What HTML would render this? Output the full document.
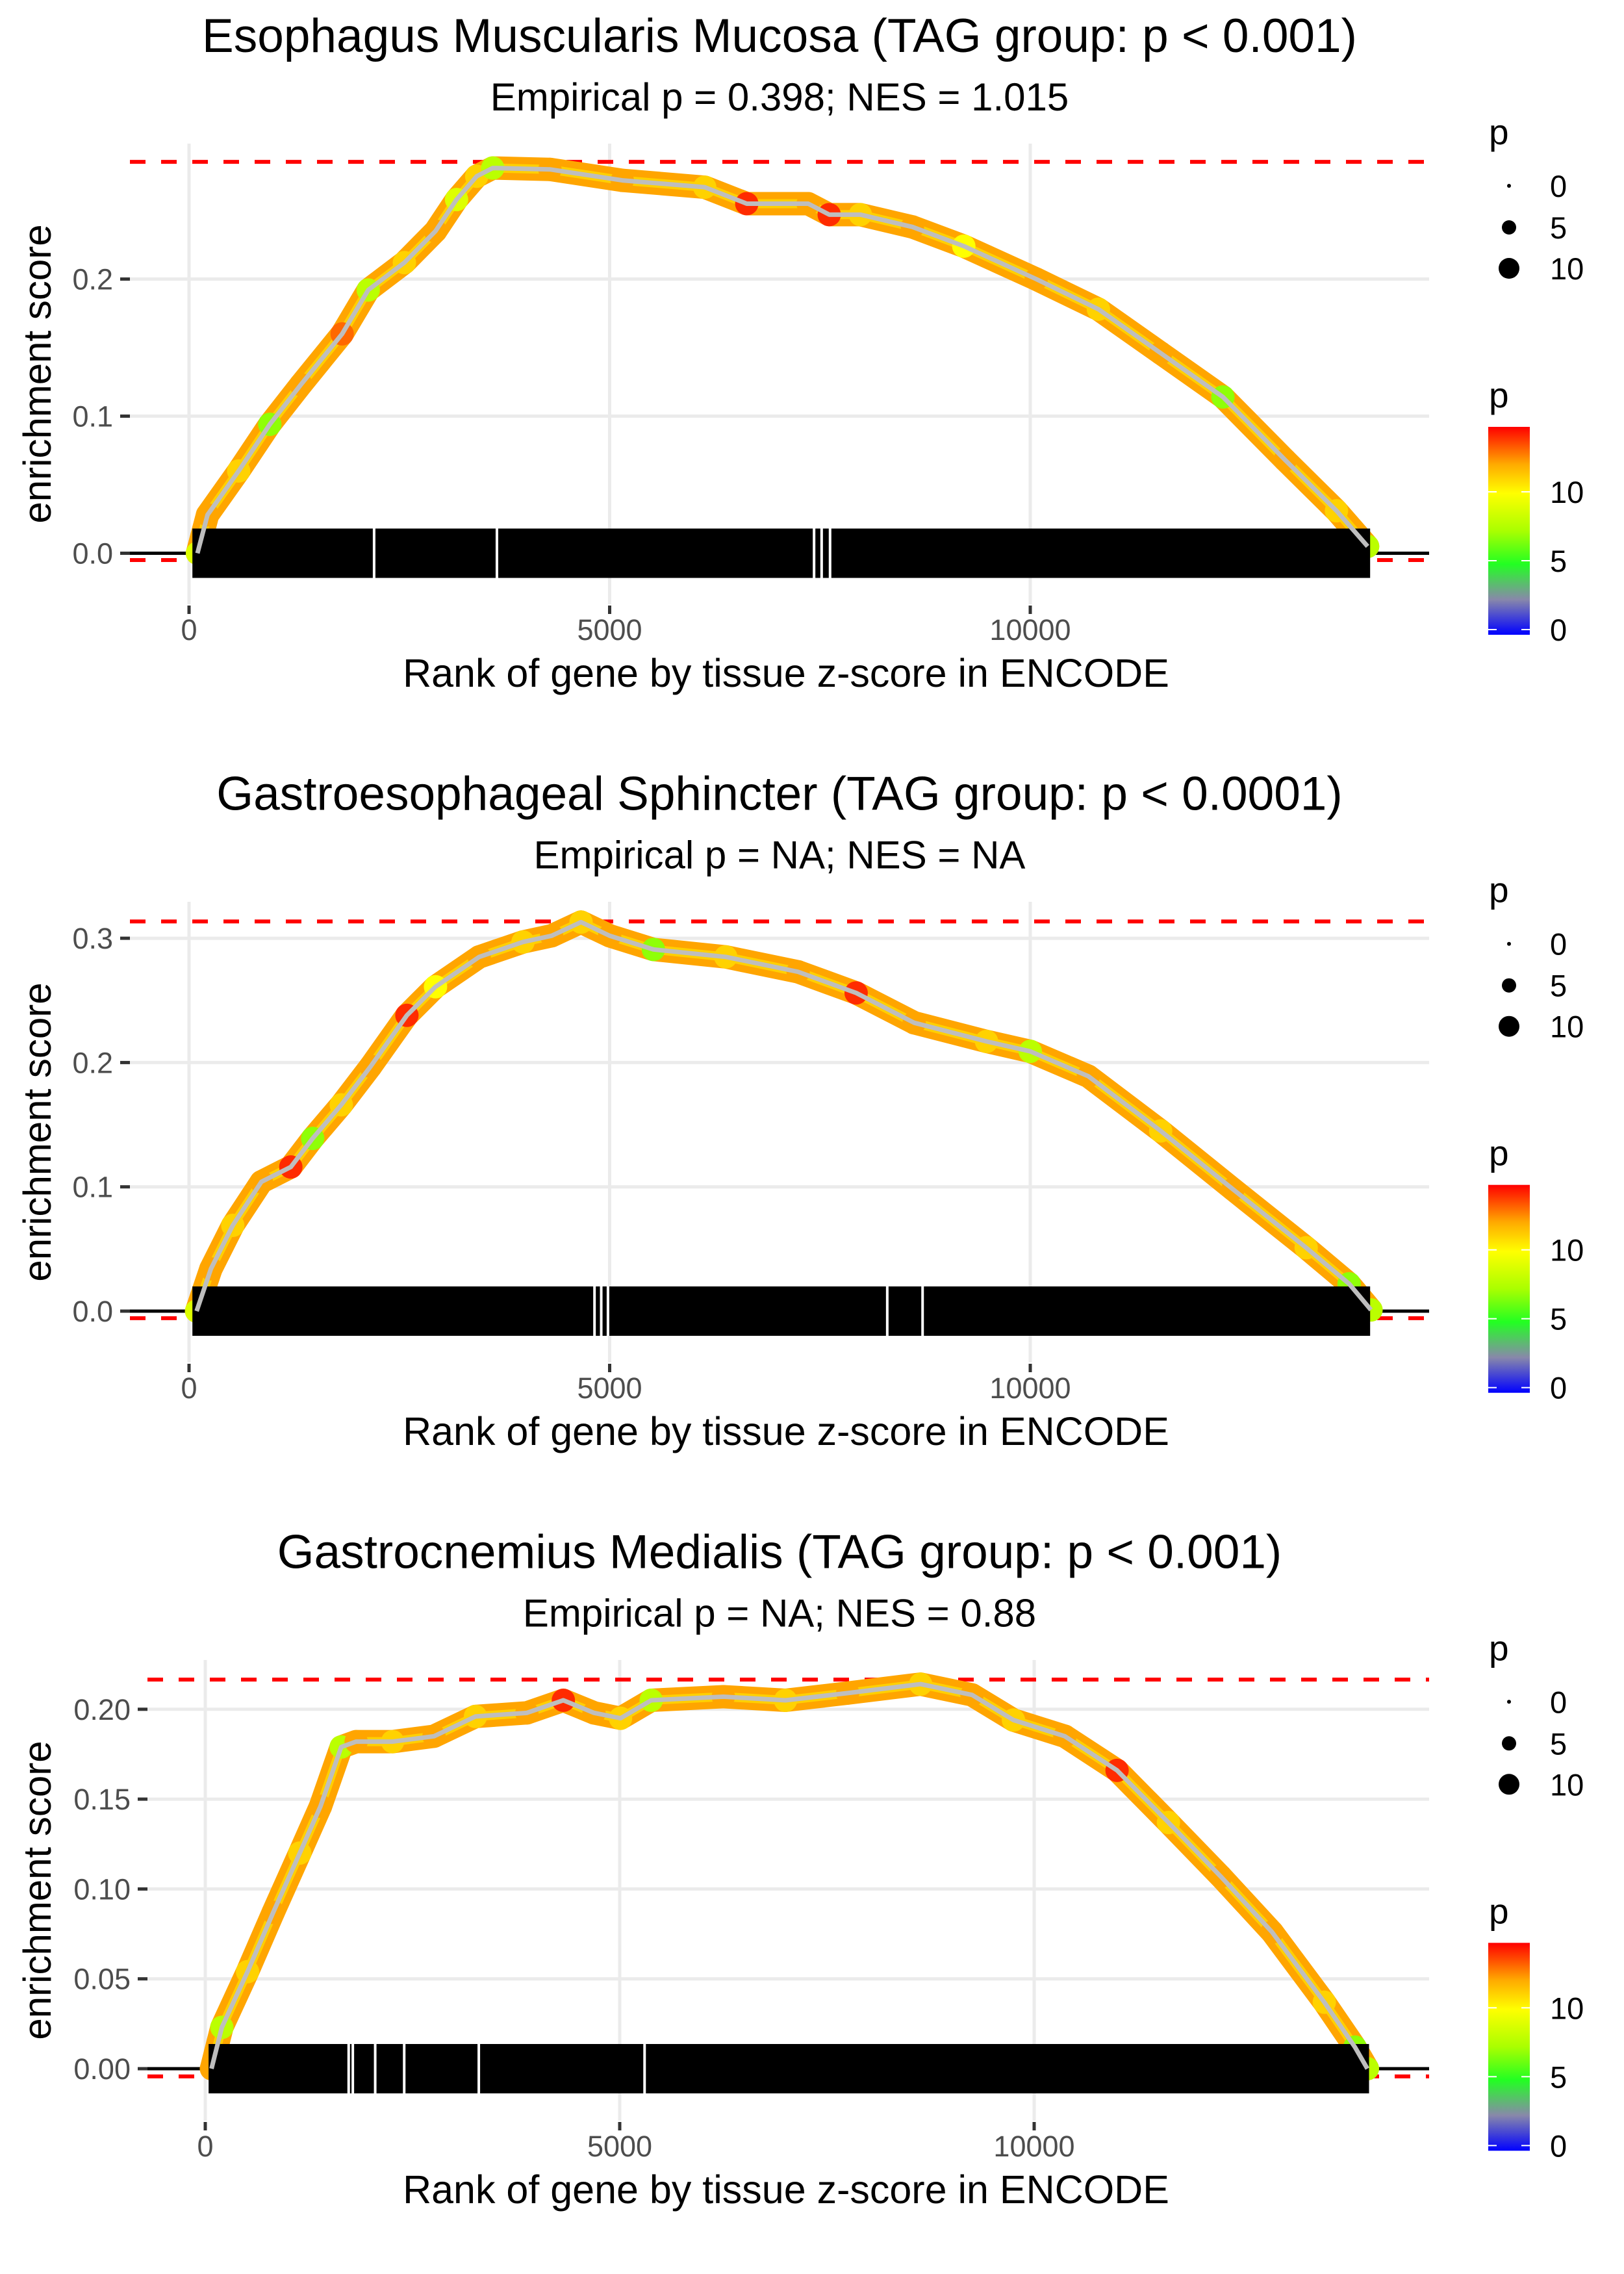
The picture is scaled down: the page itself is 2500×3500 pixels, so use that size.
<!DOCTYPE html>
<html><head><meta charset="utf-8"><style>
html,body{margin:0;padding:0;background:#fff;}
svg{display:block;font-family:"Liberation Sans",sans-serif;}
</style></head><body>
<svg id="chart" xmlns="http://www.w3.org/2000/svg" width="2500" height="3500" viewBox="0 0 2500 3500">
<defs>
<linearGradient id="pgrad" x1="0" y1="1" x2="0" y2="0">
<stop offset="0" stop-color="#0000ff"/>
<stop offset="0.17" stop-color="#8888aa"/>
<stop offset="0.34" stop-color="#22ff22"/>
<stop offset="0.5" stop-color="#aaff00"/>
<stop offset="0.68" stop-color="#ffff00"/>
<stop offset="0.82" stop-color="#ffaa00"/>
<stop offset="1" stop-color="#ff0000"/>
</linearGradient>
</defs>
</svg>
<script>
// ---- Data ----
const p1Titles = ["Esophagus Muscularis Mucosa (TAG group: p < 0.001)", "Empirical p = 0.398; NES = 1.015"];
const p2Titles = ["Gastroesophageal Sphincter (TAG group: p < 0.0001)", "Empirical p = NA; NES = NA"];
const p3Titles = ["Gastrocnemius Medialis (TAG group: p < 0.001)", "Empirical p = NA; NES = 0.88"];

const p1Rank = [100,220,590,960,1330,1820,2130,2560,2930,3180,3420,3610,4290,5150,6130,6630,7360,7610,7980,8600,9210,10070,10810,11550,12290,13030,13640,14010];
const p1ES = [0.0,0.028,0.06,0.094,0.123,0.16,0.192,0.212,0.235,0.258,0.275,0.281,0.28,0.272,0.267,0.255,0.255,0.247,0.247,0.238,0.224,0.2,0.178,0.146,0.114,0.068,0.031,0.005];
const p1P = [9,12,11,7,12,13,8,11,12,9,11,8,12,12,11,14,12,14,11,12,10,12,11,12,7,12,11,8];

const p2Rank = [90,260,520,860,1210,1470,1810,2160,2590,2930,3450,3970,4310,4660,5000,5520,6380,7240,7930,8620,9480,10000,10690,11550,12410,13280,13790,14050];
const p2ES = [0.0,0.034,0.069,0.104,0.116,0.139,0.166,0.197,0.238,0.261,0.285,0.297,0.302,0.313,0.302,0.291,0.285,0.273,0.256,0.232,0.217,0.209,0.189,0.145,0.098,0.051,0.022,0.001];
const p2P = [9,12,11,12,14,7,11,12,14,10,12,11,12,11,12,7,11,12,14,12,11,8,12,11,12,11,7,8];

const p3Rank = [75,200,510,820,1140,1390,1640,1820,2260,2760,3260,3880,4320,4690,5010,5380,6250,7000,7750,8630,9250,9750,10370,11000,11620,12250,12870,13500,13870,14020];
const p3ES = [0.0,0.023,0.054,0.087,0.12,0.146,0.179,0.182,0.182,0.185,0.196,0.198,0.205,0.198,0.195,0.205,0.207,0.205,0.209,0.214,0.208,0.194,0.185,0.166,0.137,0.107,0.076,0.037,0.012,0.0];
const p3P = [12,8,11,12,11,12,8,12,11,12,11,12,14,12,11,8,12,11,12,11,12,11,12,14,11,12,12,11,7,8];

const p1RugRange = [40,14040];
const p2RugRange = [40,14040];
const p3RugRange = [40,14040];
const p1RugGaps = [2200,3660,7430,7520,7620];
const p2RugGaps = [4820,4900,4980,8300,8720];
const p3RugGaps = [1730,1780,2050,2400,3300,5300];

const p1YTicks = [0,0.1,0.2];
const p1YLabels = ["0.0","0.1","0.2"];
const p2YTicks = [0,0.1,0.2,0.3];
const p2YLabels = ["0.0","0.1","0.2","0.3"];
const p3YTicks = [0,0.05,0.1,0.15,0.2];
const p3YLabels = ["0.00","0.05","0.10","0.15","0.20"];
const xTicks = [0,5000,10000];
const xLabels = ["0","5000","10000"];
const p1Thresh = [0.2855,-0.005];
const p2Thresh = [0.3135,-0.0057];
const p3Thresh = [0.2165,-0.0043];
const sizeLegendVals = [0,5,10];
const colorLegendVals = [0,5,10];

// ---- Drawing ----
const NS = "http://www.w3.org/2000/svg";
const svg = document.getElementById("chart");
function mk(tag, attrs, parent){
  const e = document.createElementNS(NS, tag);
  for (const k in attrs) e.setAttribute(k, attrs[k]);
  (parent||svg).appendChild(e);
  return e;
}
function pColor(p){
  const stops=[[0,[0,0,255]],[2.5,[136,136,170]],[5,[34,255,34]],[7.5,[170,255,0]],[10,[255,255,0]],[12,[255,165,0]],[14.7,[255,0,0]]];
  for(let i=1;i<stops.length;i++){
    if(p<=stops[i][0]){
      const a=stops[i-1],b=stops[i],t=(p-a[0])/(b[0]-a[0]);
      const c=a[1].map((v,j)=>Math.round(v+(b[1][j]-v)*t));
      return `rgb(${c[0]},${c[1]},${c[2]})`;
    }
  }
  return "rgb(255,0,0)";
}

function drawPanel(cfg){
  const g = mk("g",{});
  
  
  const X = r => cfg.x0 + r*cfg.xPer;
  const Y = v => cfg.y0 - v*cfg.yPer;
  const t = mk("text",{x:1200,y:cfg.off+80,"text-anchor":"middle","font-size":73,fill:"#000"},g);
  t.textContent = cfg.titles[0];
  
  
  const st = mk("text",{x:1200,y:cfg.off+170,"text-anchor":"middle","font-size":60,fill:"#000"},g);
  st.textContent = cfg.titles[1];
  
  
  cfg.yTicks.forEach((v,i)=>{
    const gl = mk("line",{x1:cfg.left,x2:2200,y1:Y(v),y2:Y(v),stroke:"#ebebeb","stroke-width":5},g);
    
    
    const tk = mk("line",{x1:cfg.left-15,x2:cfg.left,y1:Y(v),y2:Y(v),stroke:"#333","stroke-width":5},g);
    
    
    const tl = mk("text",{x:cfg.left-26,y:Y(v)+16,"text-anchor":"end","font-size":45,fill:"#4d4d4d"},g);
    tl.textContent = cfg.yLabels[i];
    
    
  });
  xTicks.forEach((v,i)=>{
    const gl = mk("line",{x1:X(v),x2:X(v),y1:cfg.top,y2:cfg.bottom,stroke:"#ebebeb","stroke-width":5},g);
    
    
    const tk = mk("line",{x1:X(v),x2:X(v),y1:cfg.bottom+2,y2:cfg.bottom+15,stroke:"#333","stroke-width":5},g);
    
    
    const tl = mk("text",{x:X(v),y:cfg.bottom+55,"text-anchor":"middle","font-size":45,fill:"#4d4d4d"},g);
    tl.textContent = xLabels[i];
    
    
  });
  const xt = mk("text",{x:1210,y:cfg.bottom+127,"text-anchor":"middle","font-size":61,fill:"#000"},g);
  xt.textContent = "Rank of gene by tissue z-score in ENCODE";
  
  
  const yc = (cfg.top+cfg.bottom)/2;
  const yt = mk("text",{x:0,y:0,"text-anchor":"middle","font-size":60,fill:"#000",transform:`translate(78,${yc}) rotate(-90)`},g);
  yt.textContent = "enrichment score";
  
  
  cfg.thresh.forEach(v=>{
    const l = mk("line",{x1:cfg.left,x2:2200,y1:Y(v),y2:Y(v),stroke:"#ff0000","stroke-width":6,"stroke-dasharray":"24 24"},g);
    
    
  });
  const zl = mk("line",{x1:cfg.left,x2:2200,y1:Y(0),y2:Y(0),stroke:"#000","stroke-width":5},g);
  
  
  const pts = cfg.rank.map((r,i)=>X(r)+","+Y(cfg.es[i])).join(" ");
  const band = mk("polyline",{points:pts,fill:"none",stroke:"#ffa500","stroke-width":36,"stroke-linejoin":"round","stroke-linecap":"round"},g);
  
  
  const band2 = mk("polyline",{points:pts,fill:"none",stroke:"#ffd000","stroke-width":14,"stroke-linejoin":"round","stroke-linecap":"round"},g);
  
  
  cfg.rank.forEach((r,i)=>{
    const c = mk("circle",{cx:X(r),cy:Y(cfg.es[i]),r:18,fill:pColor(cfg.p[i])},g);
    
    
  });
  const rug = mk("rect",{x:X(cfg.rug[0]),y:cfg.y0-38,width:X(cfg.rug[1])-X(cfg.rug[0]),height:76,fill:"#000"},g);
  
  
  cfg.gaps.forEach(r=>{
    const gp = mk("line",{x1:X(r),x2:X(r),y1:cfg.y0-38,y2:cfg.y0+38,stroke:"#fff","stroke-width":4},g);
    
    
  });
  const ln = mk("polyline",{points:pts,fill:"none",stroke:"#bebebe","stroke-width":7,"stroke-linejoin":"round"},g);
  
  
  const o = cfg.off;
  const lp = mk("text",{x:2292,y:o+222,"font-size":55,fill:"#000"},g);
  lp.textContent = "p";
  
  
  const sizeY=[286,350,413], sizeR=[3,11,16];
  sizeLegendVals.forEach((v,i)=>{
    const c = mk("circle",{cx:2323,cy:o+sizeY[i],r:sizeR[i],fill:"#000"},g);
    
    
    const tx = mk("text",{x:2386,y:o+sizeY[i]+17,"font-size":47,fill:"#000"},g);
    tx.textContent = String(v);
    
    
  });
  const cp = mk("text",{x:2292,y:o+627,"font-size":55,fill:"#000"},g);
  cp.textContent = "p";
  
  
  const cb = mk("rect",{x:2291,y:o+657,width:64,height:320,fill:"url(#pgrad)"},g);
  
  
  colorLegendVals.forEach(v=>{
    const yy = o+969 - v*21.2;
    mk("line",{x1:2291,x2:2304,y1:yy,y2:yy,stroke:"#fff","stroke-width":2},g);
    mk("line",{x1:2342,x2:2355,y1:yy,y2:yy,stroke:"#fff","stroke-width":2},g);
    const tx = mk("text",{x:2386,y:yy+17,"font-size":47,fill:"#000"},g);
    tx.textContent = String(v);
    
    
  });
}

drawPanel({name:"panel-esophagus-muscularis",off:0,titles:p1Titles,top:221,bottom:930,left:200,x0:291,xPer:0.1295,y0:851.5,yPer:2110,
  yTicks:p1YTicks,yLabels:p1YLabels,thresh:p1Thresh,rank:p1Rank,es:p1ES,p:p1P,rug:p1RugRange,gaps:p1RugGaps});
drawPanel({name:"panel-gastroesophageal-sphincter",off:1166.7,titles:p2Titles,top:1388,bottom:2097,left:200,x0:291,xPer:0.1295,y0:2018,yPer:1913,
  yTicks:p2YTicks,yLabels:p2YLabels,thresh:p2Thresh,rank:p2Rank,es:p2ES,p:p2P,rug:p2RugRange,gaps:p2RugGaps});
drawPanel({name:"panel-gastrocnemius-medialis",off:2333.3,titles:p3Titles,top:2555,bottom:3264,left:227,x0:316,xPer:0.1276,y0:3184,yPer:2766,
  yTicks:p3YTicks,yLabels:p3YLabels,thresh:p3Thresh,rank:p3Rank,es:p3ES,p:p3P,rug:p3RugRange,gaps:p3RugGaps});
</script>
</body></html>
